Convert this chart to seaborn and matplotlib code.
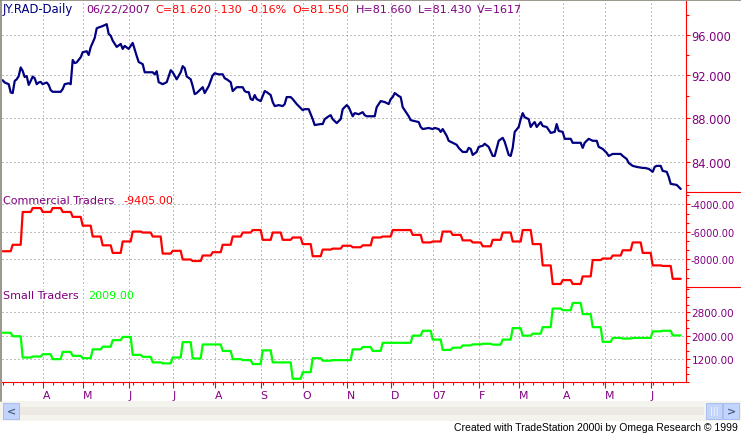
import numpy as np
import pandas as pd
import matplotlib
matplotlib.use("Agg")
import matplotlib.pyplot as plt
import matplotlib.ticker as mticker
from matplotlib.patches import Rectangle
from matplotlib.lines import Line2D
import seaborn as sns

first_day = "2006-03-06"
last_day = "2007-06-22"

# JY.RAD daily close at these bar numbers (bar 0 = first day)
jy_bar = [0, 1, 3, 4, 5, 6, 7, 8, 9, 10, 11, 12, 13, 14, 15, 16, 17, 18, 19, 20,
          21, 22, 23, 24, 25, 29, 30, 31, 33, 34, 35, 36, 37, 39, 40, 42, 43, 44, 46, 47,
          48, 49, 51, 52, 53, 54, 55, 57, 59, 60, 61, 63, 65, 67, 68, 70, 71, 73, 75, 76,
          77, 78, 80, 82, 83, 84, 85, 87, 89, 90, 91, 92, 94, 95, 96, 97, 99, 100, 101, 103,
          105, 106, 108, 110, 111, 112, 114, 115, 116, 117, 120, 121, 122, 123, 124, 125, 126, 127, 129, 130,
          131, 132, 134, 135, 136, 138, 140, 141, 142, 144, 145, 147, 149, 150, 151, 153, 154, 155, 156, 159,
          160, 161, 163, 164, 165, 167, 169, 170, 172, 173, 175, 176, 178, 180, 181, 182, 184, 186, 187, 189,
          191, 193, 194, 195, 196, 198, 199, 200, 201, 203, 204, 206, 208, 209, 210, 213, 215, 216, 218, 219,
          220, 222, 223, 225, 227, 228, 230, 232, 233, 234, 235, 237, 238, 240, 241, 243, 245, 246, 248, 250,
          251, 253, 254, 255, 256, 258, 259, 260, 261, 263, 264, 265, 266, 267, 269, 270, 272, 274, 276, 277,
          278, 280, 281, 284, 285, 289, 290, 291, 293, 295, 297, 298, 300, 302, 303, 305, 309, 310, 312, 313,
          315, 317, 320, 321, 323, 325, 326, 327, 329, 330, 332, 333, 334, 337, 338, 339]
jy_close = [91.53, 91.31, 91.15, 90.36, 90.30, 91.46, 91.62, 91.93, 92.77, 92.43, 91.84, 91.93, 91.08, 91.46, 91.88, 91.72, 91.15, 91.31, 91.37, 91.15,
            91.24, 91.31, 91.08, 90.58, 90.42, 90.42, 90.68, 91.15, 91.24, 91.15, 93.50, 93.20, 93.27, 93.77, 94.27, 94.37, 94.00, 94.77, 95.70, 96.67,
            96.77, 96.83, 97.00, 97.10, 96.10, 95.93, 95.43, 94.80, 95.10, 94.60, 94.90, 94.60, 95.20, 93.90, 93.30, 93.10, 92.30, 92.30, 92.30, 92.10,
            92.40, 91.34, 91.15, 91.34, 91.90, 92.50, 92.30, 91.62, 92.30, 92.90, 92.70, 91.90, 91.62, 90.96, 90.20, 90.30, 90.68, 90.86, 90.30, 90.96,
            92.00, 92.20, 92.10, 92.10, 91.72, 91.62, 91.34, 90.49, 90.68, 90.86, 90.86, 90.49, 90.39, 90.39, 89.73, 89.64, 90.11, 89.73, 89.54, 90.02,
            90.49, 90.39, 90.11, 89.45, 89.07, 89.16, 89.07, 89.26, 89.92, 89.92, 89.73, 89.26, 88.88, 88.69, 88.78, 88.78, 88.31, 87.85, 87.31, 87.40,
            87.40, 87.85, 88.12, 88.22, 87.85, 87.49, 87.85, 88.78, 89.16, 88.97, 88.12, 88.41, 88.31, 88.50, 88.22, 88.12, 88.12, 88.12, 88.97, 89.54,
            89.45, 89.26, 89.73, 89.92, 90.30, 90.02, 89.92, 88.97, 88.69, 88.12, 87.76, 87.67, 87.58, 87.13, 86.94, 87.04, 86.94, 87.04, 86.94, 86.68,
            86.94, 86.32, 85.87, 85.69, 85.51, 85.23, 84.87, 84.87, 85.23, 85.14, 84.60, 84.87, 85.32, 85.42, 85.60, 85.32, 84.51, 84.51, 85.87, 86.14,
            85.78, 84.60, 84.51, 85.23, 86.68, 87.13, 87.85, 88.41, 88.03, 87.85, 87.13, 87.40, 87.58, 87.13, 87.58, 87.22, 87.13, 86.59, 86.68, 87.40,
            86.77, 86.68, 86.05, 86.05, 85.69, 85.69, 85.23, 85.69, 86.05, 85.87, 85.87, 85.32, 85.14, 84.78, 84.51, 84.69, 84.69, 84.51, 84.24, 83.89,
            83.63, 83.54, 83.45, 83.45, 83.37, 83.11, 83.54, 83.63, 83.63, 83.19, 83.11, 82.67, 82.06, 81.97, 81.80, 81.62]

# weekly net positions, one value per week (weeks start on Monday)
commercial = [-7400, -6930, -4545, -4260, -4545, -4260, -4545, -4900, -5540, -6330,
              -6970, -7520, -6690, -5970, -6040, -6330, -7570, -7370, -8000, -8110,
              -7710, -7470, -6930, -6330, -6040, -5860, -6570, -6040, -6570, -6400,
              -6880, -7760, -7280, -7210, -7000, -7110, -6970, -6400, -6330, -5860,
              -5860, -6210, -6760, -6690, -5970, -6210, -6610, -6760, -7040, -6570,
              -6040, -6690, -5860, -6880, -8430, -9780, -9500, -9780, -9230, -8040,
              -7930, -7710, -7330, -6760, -7520, -8430, -8470, -9405]
small = [2100, 1980, 1246, 1280, 1358, 1189, 1439, 1304, 1223, 1527,
         1618, 1844, 1956, 1337, 1270, 1077, 1043, 1246, 1777, 1212,
         1696, 1696, 1473, 1189, 1155, 1020, 1493, 1077, 1077, 513,
         739, 1223, 1135, 1155, 1155, 1527, 1608, 1473, 1753, 1753,
         1753, 2000, 2169, 1865, 1507, 1584, 1662, 1700, 1720, 1690,
         1865, 2260, 2000, 2068, 2294, 2936, 2879, 3129, 2744, 2294,
         1787, 1922, 1900, 1922, 1922, 2149, 2169, 2009]

price_ticks = [84, 88, 92, 96]
price_minor = [82, 86, 90, 94, 98]
commercial_ticks = [-8000, -6000, -4000]
small_ticks = [1200, 2000, 2800]

NAVY, PURPLE, RED, LIME, GRID = "#000080", "#800080", "#ff0000", "#00ff00", "#808080"
W, H = 741, 435

sns.set_style("white")
plt.rcParams["font.family"] = ["DejaVu Sans"]

days = pd.bdate_range(first_day, last_day)
mondays = pd.date_range(first_day, last_day, freq="W-MON")
daily = pd.DataFrame({
    "bar": np.arange(len(days)),
    "commercial": pd.Series(commercial, index=mondays).reindex(days, method="ffill").values,
    "small": pd.Series(small, index=mondays).reindex(days, method="ffill").values,
})
price = pd.DataFrame({"bar": jy_bar, "close": jy_close})

period = days.to_period("M")
month_bars = np.flatnonzero(period[1:] != period[:-1]) + 1
month_labels = [d.strftime("%y") if d.month == 1 else d.strftime("%b")[0] for d in days[month_bars]]
week_bars = np.flatnonzero(days.dayofweek == 0)

fig = plt.figure(figsize=(W / 100, H / 100), dpi=100)
fig.patch.set_facecolor("white")


def frac(x0, y0, x1, y1):
    # pixel box (from top-left) -> figure fraction
    return [x0 / W, 1 - y1 / H, (x1 - x0) / W, (y1 - y0) / H]


ax1 = fig.add_axes(frac(2, 2, 686, 193))
ax2 = fig.add_axes(frac(2, 193, 686, 288))
ax3 = fig.add_axes(frac(2, 288, 686, 383))

sns.lineplot(data=price, x="bar", y="close", ax=ax1, color=NAVY, linewidth=1.6, estimator=None)
sns.lineplot(data=daily, x="bar", y="commercial", ax=ax2, color=RED, linewidth=1.6, estimator=None)
sns.lineplot(data=daily, x="bar", y="small", ax=ax3, color=LIME, linewidth=1.6, estimator=None)

for ax in (ax1, ax2, ax3):
    ax.set_facecolor("white")
    ax.set_xlim(-0.35, len(days) + 1.65)
    ax.set_xlabel("")
    ax.set_ylabel("")
    for side in ("top", "left", "bottom"):
        ax.spines[side].set_visible(False)
    ax.spines["right"].set_color(RED)
    ax.spines["right"].set_linewidth(0.8)
    ax.yaxis.tick_right()
    ax.set_xticks(month_bars)
    ax.set_xticks(week_bars, minor=True)
    ax.tick_params(axis="y", which="major", direction="out", length=3, width=0.8,
                   color=RED, labelcolor=PURPLE, labelsize=8.3, pad=1)
    ax.tick_params(axis="y", which="minor", direction="out", length=2, width=0.8, color=RED)
    ax.tick_params(axis="x", which="both", bottom=False, labelbottom=False)
    ax.grid(True, which="major", color=GRID, linestyle=(0, (1, 3)), linewidth=0.72)
    ax.set_axisbelow(True)

ax1.set_yscale("log")
ax1.set_ylim(81.36, 99.5)
ax1.yaxis.set_major_locator(mticker.FixedLocator(price_ticks))
ax1.yaxis.set_major_formatter(mticker.FormatStrFormatter("%.3f"))
ax1.yaxis.set_minor_locator(mticker.FixedLocator(price_minor))
ax1.yaxis.set_minor_formatter(mticker.NullFormatter())

ax2.set_ylim(-9876, -3093)
ax2.set_yticks(commercial_ticks)
ax2.set_yticks(np.arange(-10000, -3000, 2000 / 3), minor=True)
ax2.yaxis.set_major_formatter(mticker.FormatStrFormatter("%.2f"))
ax2.tick_params(axis="y", which="major", labelsize=7.1, pad=0.5)

ax3.set_ylim(469, 3680)
ax3.set_yticks(small_ticks)
ax3.set_yticks(np.arange(400, 3700, 800 / 3), minor=True)
ax3.yaxis.set_major_formatter(mticker.FormatStrFormatter("%.2f"))
ax3.tick_params(axis="y", which="major", labelsize=7.5)

ax3.spines["bottom"].set_visible(True)
ax3.spines["bottom"].set_color(RED)
ax3.spines["bottom"].set_linewidth(0.8)
ax3.tick_params(axis="x", which="major", bottom=True, labelbottom=True, direction="out",
                length=4.5, width=0.8, color=RED, labelcolor=PURPLE, labelsize=7.8, pad=1)
ax3.tick_params(axis="x", which="minor", bottom=True, direction="out", length=2.2, width=0.8, color=RED)
ax3.set_xticklabels(month_labels)
for lab in ax3.get_xticklabels():
    lab.set_horizontalalignment("left")

# red separators to the right of the price scale
for ax in (ax1, ax2):
    ax.plot([1, 1 + 60 / 684], [0, 0], transform=ax.transAxes, color=RED, lw=0.8, clip_on=False)


def put(x, y, s, color, size=8, **kw):
    fig.text(x / W, 1 - y / H, s, color=color, fontsize=size, va="center", **kw)


put(3, 10, "JY.RAD-Daily", NAVY, size=8.4)
put(86, 10, "06/22/2007", PURPLE)
put(155, 10, "C=81.620", RED)
put(213, 10, "-.130", RED)
put(247, 10, "-0.16%", RED)
put(292, 10, "O=81.550", RED)
put(356, 10, "H=81.660", PURPLE)
put(418, 10, "L=81.430", PURPLE)
put(477, 10, "V=1617", PURPLE)
put(3, 201, "Commercial Traders", PURPLE)
put(123, 201, "-9405.00", RED)
put(3, 296, "Small Traders", PURPLE)
put(88, 296, "2009.00", LIME)


def rect(x0, y0, x1, y1, **kw):
    fig.add_artist(Rectangle((x0 / W, 1 - y1 / H), (x1 - x0) / W, (y1 - y0) / H,
                             transform=fig.transFigure, **kw))


# window chrome: borders, scrollbar, footer
fig.add_artist(Line2D([0, 1], [1 - 0.6 / H] * 2, transform=fig.transFigure, color="#8a8578", lw=1.2))
fig.add_artist(Line2D([0.6 / W] * 2, [1, 1 - 402 / H], transform=fig.transFigure, color="#8a8578", lw=1.2))
rect(0, 402, W, 422, fc="#f4f3ee", ec="none")
rect(20, 408, 704, 416, fc="#ebe9e1", ec="none")
rect(3, 404, 19, 420, fc="#c3d4fc", ec="#a8bdf0", lw=0.7)
rect(706, 404, 722, 420, fc="#c3d4fc", ec="#a8bdf0", lw=0.7)
rect(723, 404, 739, 420, fc="#c3d4fc", ec="#a8bdf0", lw=0.7)
put(11, 412, "<", "#4d6185", size=8, ha="center", fontweight="bold")
put(731, 412, ">", "#4d6185", size=8, ha="center", fontweight="bold")
put(714, 412, "|||", "#f4f7ff", size=6, ha="center")
put(738, 428, "Created with TradeStation 2000i by Omega Research \u00a9 1999", "black",
    size=7.5, ha="right", family=["Liberation Sans", "DejaVu Sans"])

fig.savefig("out.png", dpi=100)
